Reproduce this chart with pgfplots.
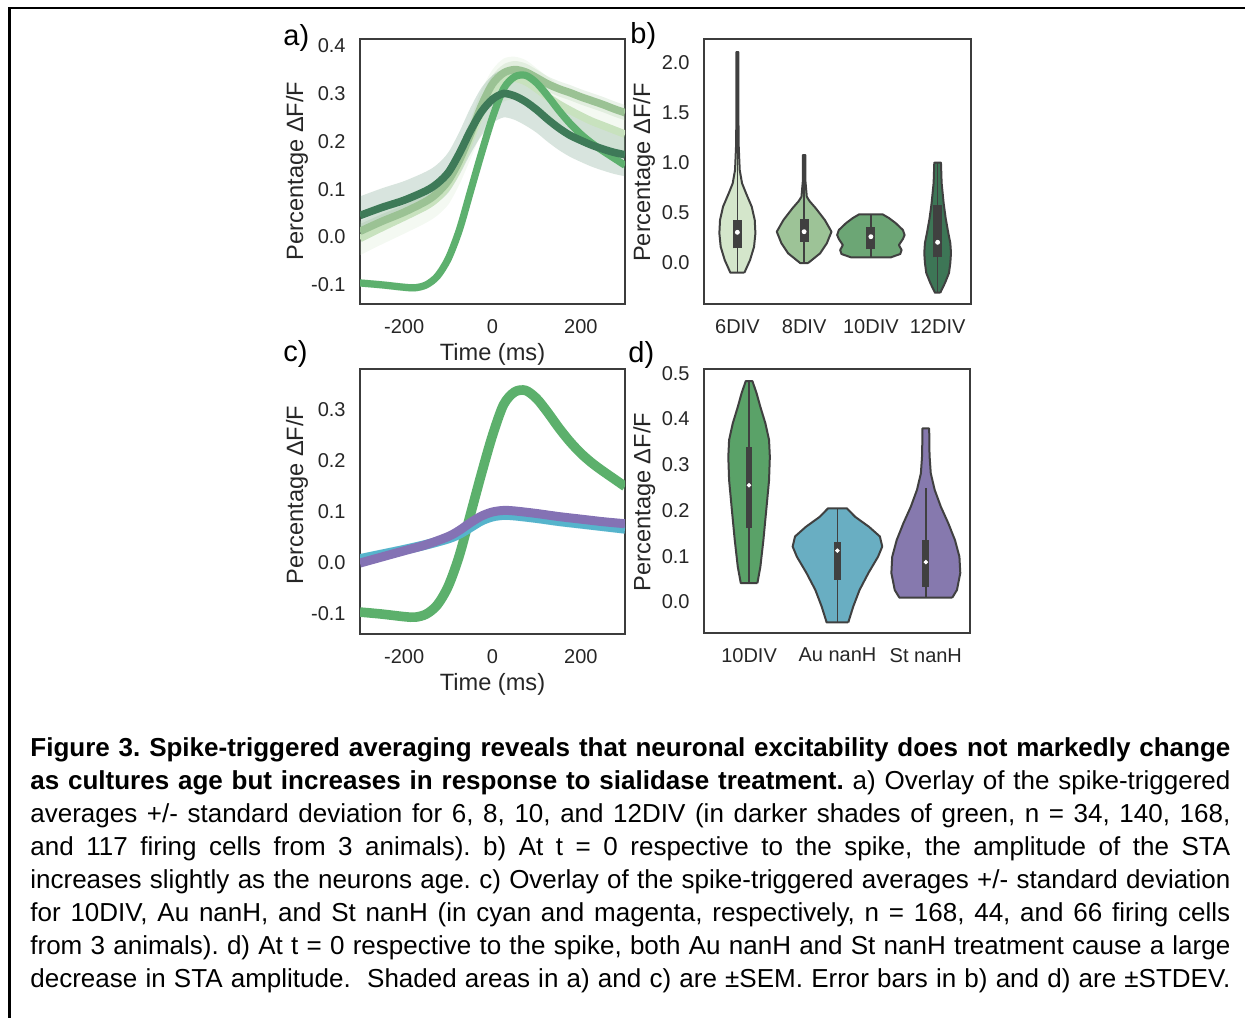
\documentclass[border=0pt]{standalone}
\usepackage{fontspec}
\setmainfont{Liberation Sans}
\usepackage{pgfplots}
\pgfplotsset{compat=1.18}
\usepackage{pgfplotstable}
\usepgfplotslibrary{fillbetween}

\definecolor{axc}{RGB}{60,60,60}
\definecolor{txc}{RGB}{38,38,38}
\definecolor{edg}{RGB}{64,64,64}
\definecolor{Lsix}{RGB}{200,226,190}
\definecolor{Leight}{RGB}{155,194,148}
\definecolor{Lten}{RGB}{93,176,110}
\definecolor{Ltwelve}{RGB}{62,122,88}
\definecolor{Vsix}{RGB}{212,230,203}
\definecolor{Veight}{RGB}{157,195,151}
\definecolor{Vten}{RGB}{108,166,117}
\definecolor{Vtwelve}{RGB}{61,118,86}
\definecolor{Cgreen}{RGB}{92,176,108}
\definecolor{Ccyan}{RGB}{86,180,204}
\definecolor{Cpurple}{RGB}{132,114,180}
\definecolor{Dgreen}{RGB}{90,162,104}
\definecolor{Dcyan}{RGB}{105,174,194}
\definecolor{Dpurple}{RGB}{134,121,174}

% spike-triggered averages: time, mean, SEM
\pgfplotstableread{
t m e
-300 -0.003 0.035
-250 0.020 0.035
-200 0.042 0.035
-150 0.065 0.035
-125 0.082 0.037
-100 0.108 0.040
-75 0.150 0.040
-50 0.205 0.042
-25 0.262 0.045
0 0.305 0.045
25 0.328 0.045
50 0.332 0.045
75 0.325 0.045
100 0.310 0.043
125 0.293 0.042
150 0.278 0.040
175 0.265 0.040
200 0.253 0.040
225 0.242 0.040
250 0.233 0.040
275 0.224 0.040
300 0.215 0.040
}\dsix
\pgfplotstableread{
t m e
-300 0.012 0.015
-250 0.033 0.015
-200 0.052 0.015
-150 0.075 0.015
-125 0.092 0.015
-100 0.118 0.015
-75 0.160 0.016
-50 0.215 0.017
-25 0.275 0.018
0 0.320 0.018
25 0.343 0.018
50 0.350 0.018
75 0.345 0.018
100 0.333 0.017
125 0.320 0.016
150 0.310 0.016
175 0.302 0.016
200 0.293 0.016
225 0.285 0.016
250 0.277 0.016
275 0.268 0.016
300 0.260 0.016
}\deight
\pgfplotstableread{
t m e
-300 -0.096 0.008
-250 -0.100 0.008
-200 -0.105 0.008
-175 -0.106 0.008
-150 -0.100 0.008
-125 -0.082 0.008
-100 -0.045 0.008
-75 0.015 0.008
-50 0.095 0.008
-25 0.175 0.009
0 0.250 0.009
25 0.310 0.010
50 0.335 0.010
75 0.338 0.010
100 0.322 0.010
125 0.295 0.009
150 0.265 0.009
175 0.238 0.008
200 0.215 0.008
225 0.196 0.008
250 0.180 0.008
275 0.165 0.008
300 0.150 0.008
}\dten
\pgfplotstableread{
t m e
-300 0.045 0.040
-250 0.062 0.040
-200 0.077 0.040
-150 0.097 0.040
-125 0.112 0.040
-100 0.135 0.042
-75 0.175 0.045
-50 0.222 0.048
-25 0.262 0.050
0 0.288 0.050
25 0.300 0.050
50 0.295 0.050
75 0.283 0.050
100 0.266 0.048
125 0.246 0.047
150 0.228 0.046
175 0.213 0.045
200 0.202 0.045
225 0.192 0.045
250 0.184 0.045
275 0.177 0.045
300 0.172 0.045
}\dtwelve
\pgfplotstableread{
t m e
-300 0.008 0.010
-250 0.017 0.010
-200 0.026 0.010
-150 0.036 0.010
-100 0.048 0.010
-75 0.057 0.010
-50 0.070 0.010
-25 0.083 0.010
0 0.091 0.010
25 0.094 0.010
50 0.093 0.010
100 0.088 0.010
150 0.082 0.010
200 0.077 0.010
250 0.072 0.010
300 0.067 0.010
}\dau
\pgfplotstableread{
t m e
-300 0.000 0.008
-250 0.012 0.008
-200 0.024 0.008
-150 0.036 0.008
-100 0.052 0.008
-75 0.064 0.008
-50 0.079 0.008
-25 0.092 0.008
0 0.100 0.008
25 0.103 0.008
50 0.102 0.008
100 0.097 0.008
150 0.091 0.008
200 0.086 0.008
250 0.081 0.008
300 0.077 0.008
}\dst

% violin outlines: value y, signed half-width w (right side up, left side down)
\pgfplotstableread{
y w
-0.097 0.105
0.03 0.19
0.163 0.25
0.297 0.27
0.43 0.26
0.563 0.215
0.697 0.13
0.797 0.07
0.93 0.035
1.2 0.018
1.6 0.015
2.11 0.015
2.11 -0.015
1.6 -0.015
1.2 -0.018
0.93 -0.035
0.797 -0.07
0.697 -0.13
0.563 -0.215
0.43 -0.26
0.297 -0.27
0.163 -0.25
0.03 -0.19
-0.097 -0.105
-0.097 0.105
}\vbsix
\pgfplotstableread{
y w
0.0 0.06
0.097 0.24
0.197 0.34
0.313 0.41
0.43 0.31
0.547 0.175
0.62 0.08
0.663 0.04
0.83 0.018
1.08 0.018
1.08 -0.018
0.83 -0.018
0.663 -0.04
0.62 -0.08
0.547 -0.175
0.43 -0.31
0.313 -0.41
0.197 -0.34
0.097 -0.24
0.0 -0.06
0.0 0.06
}\vbeight
\pgfplotstableread{
y w
0.057 0.30
0.09 0.44
0.13 0.46
0.18 0.42
0.24 0.48
0.28 0.505
0.33 0.48
0.40 0.37
0.45 0.27
0.487 0.175
0.487 -0.175
0.45 -0.27
0.40 -0.37
0.33 -0.48
0.28 -0.505
0.24 -0.48
0.18 -0.42
0.13 -0.46
0.09 -0.44
0.057 -0.30
0.057 0.30
}\vbten
\pgfplotstableread{
y w
-0.297 0.04
-0.2 0.11
-0.1 0.17
0.0 0.19
0.1 0.20
0.2 0.19
0.3 0.16
0.45 0.12
0.6 0.09
0.8 0.06
1.003 0.05
1.003 -0.05
0.8 -0.06
0.6 -0.09
0.45 -0.12
0.3 -0.16
0.2 -0.19
0.1 -0.20
0.0 -0.19
-0.1 -0.17
-0.2 -0.11
-0.297 -0.04
-0.297 0.04
}\vbtwelve
\pgfplotstableread{
y w
0.041 0.094
0.077 0.128
0.135 0.162
0.208 0.198
0.266 0.226
0.317 0.235
0.354 0.226
0.39 0.185
0.426 0.128
0.456 0.085
0.4825 0.038
0.4825 -0.038
0.456 -0.085
0.426 -0.128
0.39 -0.185
0.354 -0.226
0.317 -0.235
0.266 -0.226
0.208 -0.198
0.135 -0.162
0.077 -0.128
0.041 -0.094
0.041 0.094
}\vdten
\pgfplotstableread{
y w
-0.045 0.122
-0.010 0.179
0.026 0.25
0.063 0.35
0.099 0.46
0.121 0.507
0.143 0.48
0.164 0.358
0.186 0.2
0.2045 0.107
0.2045 -0.107
0.186 -0.2
0.164 -0.358
0.143 -0.48
0.121 -0.507
0.099 -0.46
0.063 -0.35
0.026 -0.25
-0.010 -0.179
-0.045 -0.122
-0.045 0.122
}\vdau
\pgfplotstableread{
y w
0.0095 0.30
0.026 0.352
0.063 0.39
0.099 0.38
0.135 0.33
0.172 0.254
0.208 0.17
0.245 0.10
0.281 0.056
0.32 0.042
0.379 0.038
0.379 -0.038
0.32 -0.042
0.281 -0.056
0.245 -0.10
0.208 -0.17
0.172 -0.254
0.135 -0.33
0.099 -0.38
0.063 -0.39
0.026 -0.352
0.0095 -0.30
0.0095 0.30
}\vdst

\pgfplotsset{
  panel/.style={
    scale only axis,
    axis line style={draw=axc, line width=1pt},
    major tick length=0pt,
    tick style={draw=none},
    tick label style={font=\fontsize{10}{12}\selectfont, text=txc, inner sep=0pt},
    xticklabel shift=7.4pt, yticklabel shift=7pt,
    label style={font=\fontsize{11.8}{14}\selectfont, text=txc},
    ylabel={Percentage ΔF/F},
  },
  band/.style={draw=none, fill=#1, fill opacity=0.2},
  violin/.style={fill=#1, draw=edg, line width=1pt, line join=round},
}

\begin{document}
\begin{tikzpicture}
\path (0pt,0pt) rectangle (623pt,-509.5pt);

% ---------------- a)
\begin{axis}[panel, at={(180pt,-152pt)}, anchor=south west,
  width=132.5pt, height=132.5pt,
  xmin=-300, xmax=300, ymin=-0.14, ymax=0.414,
  xtick={-200,0,200}, xticklabels={-200,0,200},
  ytick={-0.1,0,0.1,0.2,0.3,0.4}, yticklabels={-0.1,0.0,0.1,0.2,0.3,0.4},
  xlabel={Time (ms)},
  xlabel style={at={(axis description cs:0.5,-0.19)}, anchor=center},
  ylabel style={at={(axis description cs:-0.238,0.502)}, anchor=center},
]
\addplot[draw=none, name path=su, smooth] table[x=t, y expr=\thisrow{m}+\thisrow{e}] {\dsix};
\addplot[draw=none, name path=sl, smooth] table[x=t, y expr=\thisrow{m}-\thisrow{e}] {\dsix};
\addplot[band=Lsix] fill between[of=su and sl];
\addplot[draw=none, name path=eu, smooth] table[x=t, y expr=\thisrow{m}+\thisrow{e}] {\deight};
\addplot[draw=none, name path=el, smooth] table[x=t, y expr=\thisrow{m}-\thisrow{e}] {\deight};
\addplot[band=Leight] fill between[of=eu and el];
\addplot[draw=none, name path=tu, smooth] table[x=t, y expr=\thisrow{m}+\thisrow{e}] {\dten};
\addplot[draw=none, name path=tl, smooth] table[x=t, y expr=\thisrow{m}-\thisrow{e}] {\dten};
\addplot[band=Lten] fill between[of=tu and tl];
\addplot[draw=none, name path=wu, smooth] table[x=t, y expr=\thisrow{m}+\thisrow{e}] {\dtwelve};
\addplot[draw=none, name path=wl, smooth] table[x=t, y expr=\thisrow{m}-\thisrow{e}] {\dtwelve};
\addplot[band=Ltwelve] fill between[of=wu and wl];
\addplot[Lsix, line width=3.8pt, smooth] table[x=t, y=m] {\dsix};
\addplot[Leight, line width=3.8pt, smooth] table[x=t, y=m] {\deight};
\addplot[Lten, line width=3.6pt, smooth] table[x=t, y=m] {\dten};
\addplot[Ltwelve, line width=3.8pt, smooth] table[x=t, y=m] {\dtwelve};
\end{axis}

% ---------------- b)
\begin{axis}[panel, at={(352pt,-152pt)}, anchor=south west,
  width=133.5pt, height=132.5pt,
  xmin=-0.5, xmax=3.5, ymin=-0.41, ymax=2.24,
  xtick={0,1,2,3}, xticklabels={6DIV,8DIV,10DIV,12DIV},
  ytick={0,0.5,1,1.5,2}, yticklabels={0.0,0.5,1.0,1.5,2.0},
  ylabel style={at={(axis description cs:-0.225,0.496)}, anchor=center},
]
\addplot[violin=Vsix] table[x expr=0+\thisrow{w}, y=y] {\vbsix};
\addplot[violin=Veight] table[x expr=1+\thisrow{w}, y=y] {\vbeight};
\addplot[violin=Vten] table[x expr=2+\thisrow{w}, y=y] {\vbten};
\addplot[violin=Vtwelve] table[x expr=3+\thisrow{w}, y=y] {\vbtwelve};
\addplot[edg, line width=0.8pt] coordinates {(0,-0.097) (0,2.11)};
\addplot[edg, line width=0.8pt] coordinates {(1,0.0) (1,1.08)};
\addplot[edg, line width=0.8pt] coordinates {(2,0.057) (2,0.487)};
\addplot[edg, line width=0.8pt] coordinates {(3,-0.297) (3,1.003)};
\addplot[edg, line width=4.5pt] coordinates {(0,0.147) (0,0.43)};
\addplot[edg, line width=4.5pt] coordinates {(1,0.213) (1,0.44)};
\addplot[edg, line width=4.5pt] coordinates {(2,0.137) (2,0.363)};
\addplot[edg, line width=4.5pt] coordinates {(3,0.057) (3,0.58)};
\addplot[only marks, mark=*, mark size=1pt, draw=white, fill=white] coordinates {(0,0.307) (1,0.313) (2,0.263) (3,0.207)};
\end{axis}

% ---------------- c)
\begin{axis}[panel, at={(180pt,-317pt)}, anchor=south west,
  width=132.5pt, height=132.5pt,
  xmin=-300, xmax=300, ymin=-0.139, ymax=0.38,
  xtick={-200,0,200}, xticklabels={-200,0,200},
  ytick={-0.1,0,0.1,0.2,0.3}, yticklabels={-0.1,0.0,0.1,0.2,0.3},
  xlabel={Time (ms)},
  xlabel style={at={(axis description cs:0.5,-0.19)}, anchor=center},
  ylabel style={at={(axis description cs:-0.238,0.525)}, anchor=center},
]
\addplot[draw=none, name path=gu, smooth] table[x=t, y expr=\thisrow{m}+\thisrow{e}] {\dten};
\addplot[draw=none, name path=gl, smooth] table[x=t, y expr=\thisrow{m}-\thisrow{e}] {\dten};
\addplot[band=Cgreen] fill between[of=gu and gl];
\addplot[draw=none, name path=au, smooth] table[x=t, y expr=\thisrow{m}+\thisrow{e}] {\dau};
\addplot[draw=none, name path=al, smooth] table[x=t, y expr=\thisrow{m}-\thisrow{e}] {\dau};
\addplot[band=Ccyan] fill between[of=au and al];
\addplot[draw=none, name path=pu, smooth] table[x=t, y expr=\thisrow{m}+\thisrow{e}] {\dst};
\addplot[draw=none, name path=pl, smooth] table[x=t, y expr=\thisrow{m}-\thisrow{e}] {\dst};
\addplot[band=Cpurple] fill between[of=pu and pl];
\addplot[Cgreen, line width=4.8pt, smooth] table[x=t, y=m] {\dten};
\addplot[Ccyan, line width=4.8pt, smooth] table[x=t, y=m] {\dau};
\addplot[Cpurple, line width=4.5pt, smooth] table[x=t, y=m] {\dst};
\end{axis}

% ---------------- d)
\begin{axis}[panel, at={(352pt,-316.5pt)}, anchor=south west,
  width=133pt, height=132pt,
  xmin=-0.51, xmax=2.5, ymin=-0.068, ymax=0.509,
  xtick={0,1,2}, xticklabels={10DIV,Au nanH,St nanH},
  ytick={0,0.1,0.2,0.3,0.4,0.5}, yticklabels={0.0,0.1,0.2,0.3,0.4,0.5},
  ylabel style={at={(axis description cs:-0.225,0.496)}, anchor=center},
]
\addplot[violin=Dgreen] table[x expr=0+\thisrow{w}, y=y] {\vdten};
\addplot[violin=Dcyan] table[x expr=1+\thisrow{w}, y=y] {\vdau};
\addplot[violin=Dpurple] table[x expr=2+\thisrow{w}, y=y] {\vdst};
\addplot[edg, line width=0.8pt] coordinates {(0,0.041) (0,0.4825)};
\addplot[edg, line width=0.8pt] coordinates {(1,-0.045) (1,0.2045)};
\addplot[edg, line width=0.8pt] coordinates {(2,0.0095) (2,0.25)};
\addplot[edg, line width=3.4pt] coordinates {(0,0.161) (0,0.339)};
\addplot[edg, line width=3.4pt] coordinates {(1,0.048) (1,0.132)};
\addplot[edg, line width=3.4pt] coordinates {(2,0.033) (2,0.135)};
\addplot[only marks, mark=*, mark size=0.9pt, draw=white, fill=white] coordinates {(0,0.255) (1,0.112) (2,0.087)};
\end{axis}

% panel letters
\node[anchor=base west, inner sep=0pt, font=\fontsize{14.5}{16}\selectfont] at (141.5pt,-22.5pt) {a)};
\node[anchor=base west, inner sep=0pt, font=\fontsize{14.5}{16}\selectfont] at (315pt,-21.5pt) {b)};
\node[anchor=base west, inner sep=0pt, font=\fontsize{14.5}{16}\selectfont] at (141.5pt,-180.5pt) {c)};
\node[anchor=base west, inner sep=0pt, font=\fontsize{14.5}{16}\selectfont] at (314pt,-181pt) {d)};

% caption
\node[anchor=base west, inner sep=0pt] at (15pt,-378pt) {\parbox[t]{600pt}{%
\fontsize{13}{16.5}\selectfont\frenchspacing\hyphenpenalty=10000\exhyphenpenalty=10000\tolerance=10000\emergencystretch=20pt\parindent=0pt\parfillskip=0pt
\textbf{Figure 3. Spike-triggered averaging reveals that neuronal excitability does not markedly change\linebreak as cultures age but increases in response to sialidase treatment.} a) Overlay of the spike-triggered\linebreak averages +/- standard deviation for 6, 8, 10, and 12DIV (in darker shades of green, n = 34, 140, 168,\linebreak and 117 firing cells from 3 animals). b) At t = 0 respective to the spike, the amplitude of the STA\linebreak increases slightly as the neurons age. c) Overlay of the spike-triggered averages +/- standard deviation\linebreak for 10DIV, Au nanH, and St nanH (in cyan and magenta, respectively, n = 168, 44, and 66 firing cells\linebreak from 3 animals). d) At t = 0 respective to the spike, both Au nanH and St nanH treatment cause a large\linebreak decrease in STA amplitude.\ \ Shaded areas in a) and c) are ±SEM. Error bars in b) and d) are ±STDEV.}};

% frame
\draw[line width=1.35pt, line cap=butt, line join=miter] (4.83pt,-508.8pt) -- (4.83pt,-4pt) -- (622.3pt,-4pt);
\end{tikzpicture}
\end{document}
